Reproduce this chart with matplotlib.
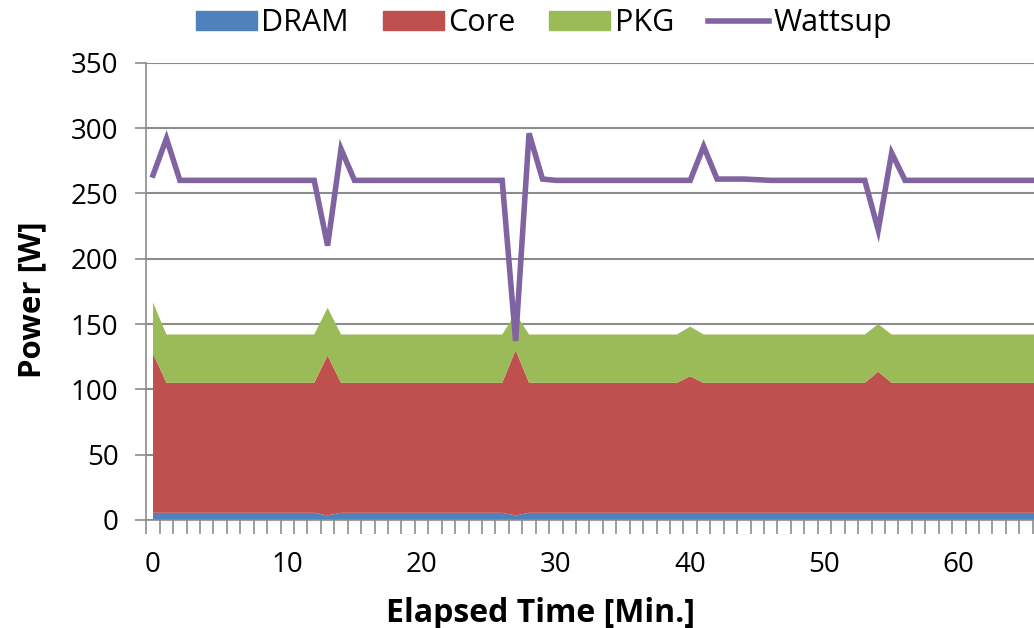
import numpy as np
import matplotlib.pyplot as plt
from matplotlib.patches import Patch
from matplotlib.lines import Line2D

plt.rcParams['font.family'] = ['Open Sans', 'DejaVu Sans']

# elapsed minutes
minutes = list(range(0, 67))

# RAPL components (W), stacked: DRAM + Core + PKG
dram = [5.5] * 67
dram[13] = 3.5
dram[27] = 3.5

core = [99.5] * 67
core[0] = 122.0
core[13] = 122.5
core[27] = 126.5
core[40] = 104.5
core[54] = 108.0

pkg = [37.0] * 67
pkg[0] = 39.0
pkg[13] = 36.5
pkg[27] = 28.0
pkg[40] = 38.0
pkg[54] = 36.5

# wall power meter reading (W)
wattsup = [260] * 67
wattsup[0] = 264
wattsup[1] = 292
wattsup[13] = 210
wattsup[14] = 284
wattsup[27] = 137
wattsup[28] = 296
wattsup[29] = 261
wattsup[41] = 286
wattsup[42] = 261
wattsup[43] = 261
wattsup[44] = 261
wattsup[45] = 260.5
wattsup[54] = 222
wattsup[55] = 281

colors = ['#4F81BD', '#C0504D', '#9BBB59']
line_color = '#8064A2'
grid_color = '#8C8C8C'

fig = plt.figure(figsize=(10.34, 6.28), dpi=100)
ax = fig.add_axes([0.1415, 0.172, 0.8585, 0.728])

x = np.array(minutes)
ax.stackplot(x, dram, core, pkg, colors=colors, linewidth=0, zorder=2)
ax.plot(x, wattsup, color=line_color, linewidth=4, solid_joinstyle='miter', zorder=3)

ax.set_xlim(-0.5, 65.6)
ax.set_ylim(0, 350)

ax.set_yticks(np.arange(0, 351, 50))
ax.yaxis.grid(True, color=grid_color, linewidth=1.5, zorder=1)
ax.set_axisbelow(True)

# category-style axis: ticks sit between the minutes
ax.set_xticks(np.arange(0, 61, 10))
ax.set_xticks(np.arange(-0.5, 66, 1), minor=True)
ax.tick_params(axis='x', which='major', length=0, pad=22, labelsize=20)
ax.tick_params(axis='x', which='minor', length=10, width=1.2, color=grid_color)
ax.tick_params(axis='y', length=8, width=1.2, color=grid_color, labelsize=20, pad=12)

for side in ['top', 'right']:
    ax.spines[side].set_visible(False)
for side in ['left', 'bottom']:
    ax.spines[side].set_color(grid_color)
    ax.spines[side].set_linewidth(1.2)

ax.set_xlabel('Elapsed Time [Min.]', fontsize=23, fontweight='bold')
ax.set_ylabel('Power [W]', fontsize=22.5, fontweight='bold')
ax.xaxis.set_label_coords(0.4437, -0.168)
ax.yaxis.set_label_coords(-0.111, 0.482)

handles = [Patch(color=colors[0], label='DRAM'),
           Patch(color=colors[1], label='Core'),
           Patch(color=colors[2], label='PKG'),
           Line2D([0], [0], color=line_color, linewidth=4, label='Wattsup')]
fig.legend(handles=handles, loc='center', bbox_to_anchor=(0.526, 0.963), ncol=4,
           frameon=False, fontsize=22, handlelength=2.0, handleheight=0.55,
           handletextpad=0.15, columnspacing=1.1, borderpad=0.1)

fig.savefig('out.png', dpi=100)
